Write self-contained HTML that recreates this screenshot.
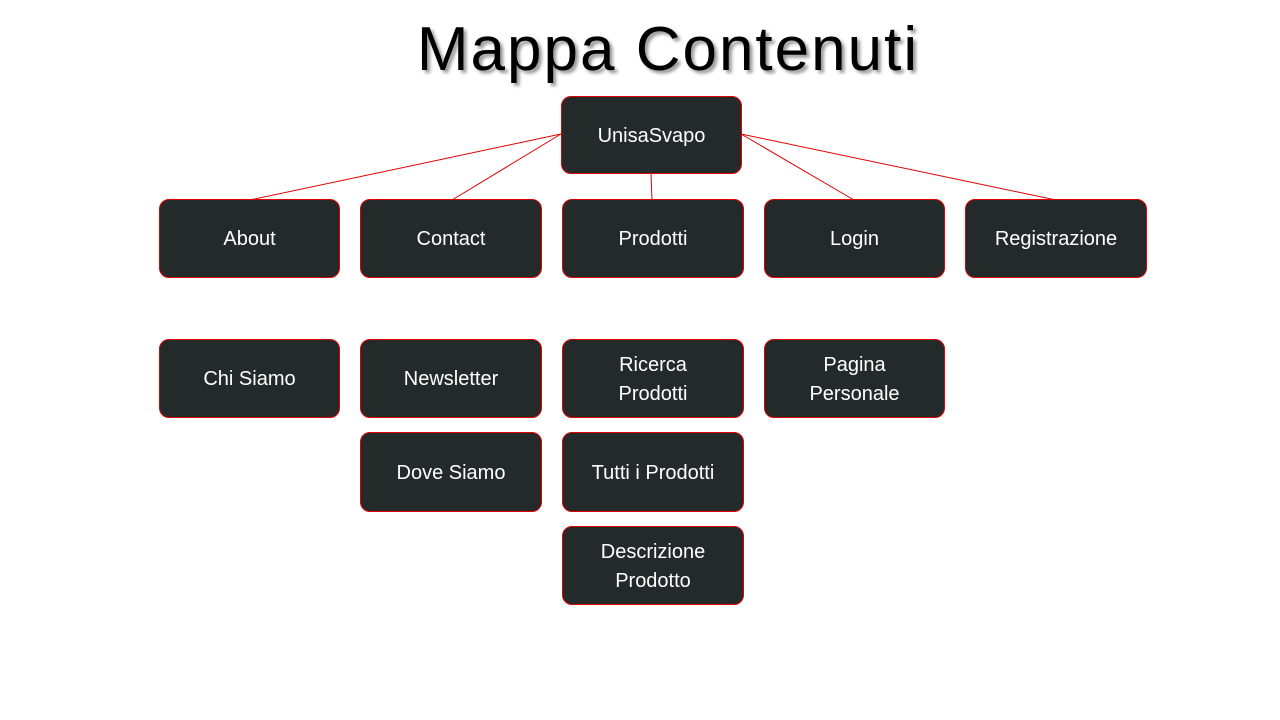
<!DOCTYPE html>
<html><head><meta charset="utf-8"><style>
body{margin:0;width:1280px;height:720px;background:#fff;position:relative;overflow:hidden;font-family:"Liberation Sans",sans-serif}
.t{position:absolute;left:0;width:1336px;top:14px;text-align:center;font-size:62px;color:#000;text-shadow:3px 3px 3px #999;letter-spacing:2px}
.b{position:absolute;box-sizing:border-box;background:#242a2a;border:1px solid #e00000;border-radius:10px;color:#fff;font-size:20px;display:flex;align-items:center;justify-content:center;text-align:center;line-height:29px;padding-top:2px}
svg{position:absolute;left:0;top:0}
</style></head><body>
<div class="t">Mappa Contenuti</div>
<svg width="1280" height="720"><g stroke="#e00000" stroke-width="1">
<line x1="561" y1="134" x2="250" y2="200"/><line x1="561" y1="134" x2="452" y2="200"/>
<line x1="651" y1="173" x2="652" y2="200"/><line x1="741" y1="134" x2="854" y2="200"/>
<line x1="741" y1="134" x2="1056" y2="200"/></g></svg>
<div class="b" style="left:561px;top:96px;width:181px;height:78px">UnisaSvapo</div>
<div class="b" style="left:159px;top:199px;width:181px;height:79px">About</div>
<div class="b" style="left:360px;top:199px;width:182px;height:79px">Contact</div>
<div class="b" style="left:562px;top:199px;width:182px;height:79px">Prodotti</div>
<div class="b" style="left:764px;top:199px;width:181px;height:79px">Login</div>
<div class="b" style="left:965px;top:199px;width:182px;height:79px">Registrazione</div>
<div class="b" style="left:159px;top:339px;width:181px;height:79px">Chi Siamo</div>
<div class="b" style="left:360px;top:339px;width:182px;height:79px">Newsletter</div>
<div class="b" style="left:562px;top:339px;width:182px;height:79px">Ricerca<br>Prodotti</div>
<div class="b" style="left:764px;top:339px;width:181px;height:79px">Pagina<br>Personale</div>
<div class="b" style="left:360px;top:432px;width:182px;height:80px">Dove Siamo</div>
<div class="b" style="left:562px;top:432px;width:182px;height:80px">Tutti i Prodotti</div>
<div class="b" style="left:562px;top:526px;width:182px;height:79px">Descrizione<br>Prodotto</div>
</body></html>
